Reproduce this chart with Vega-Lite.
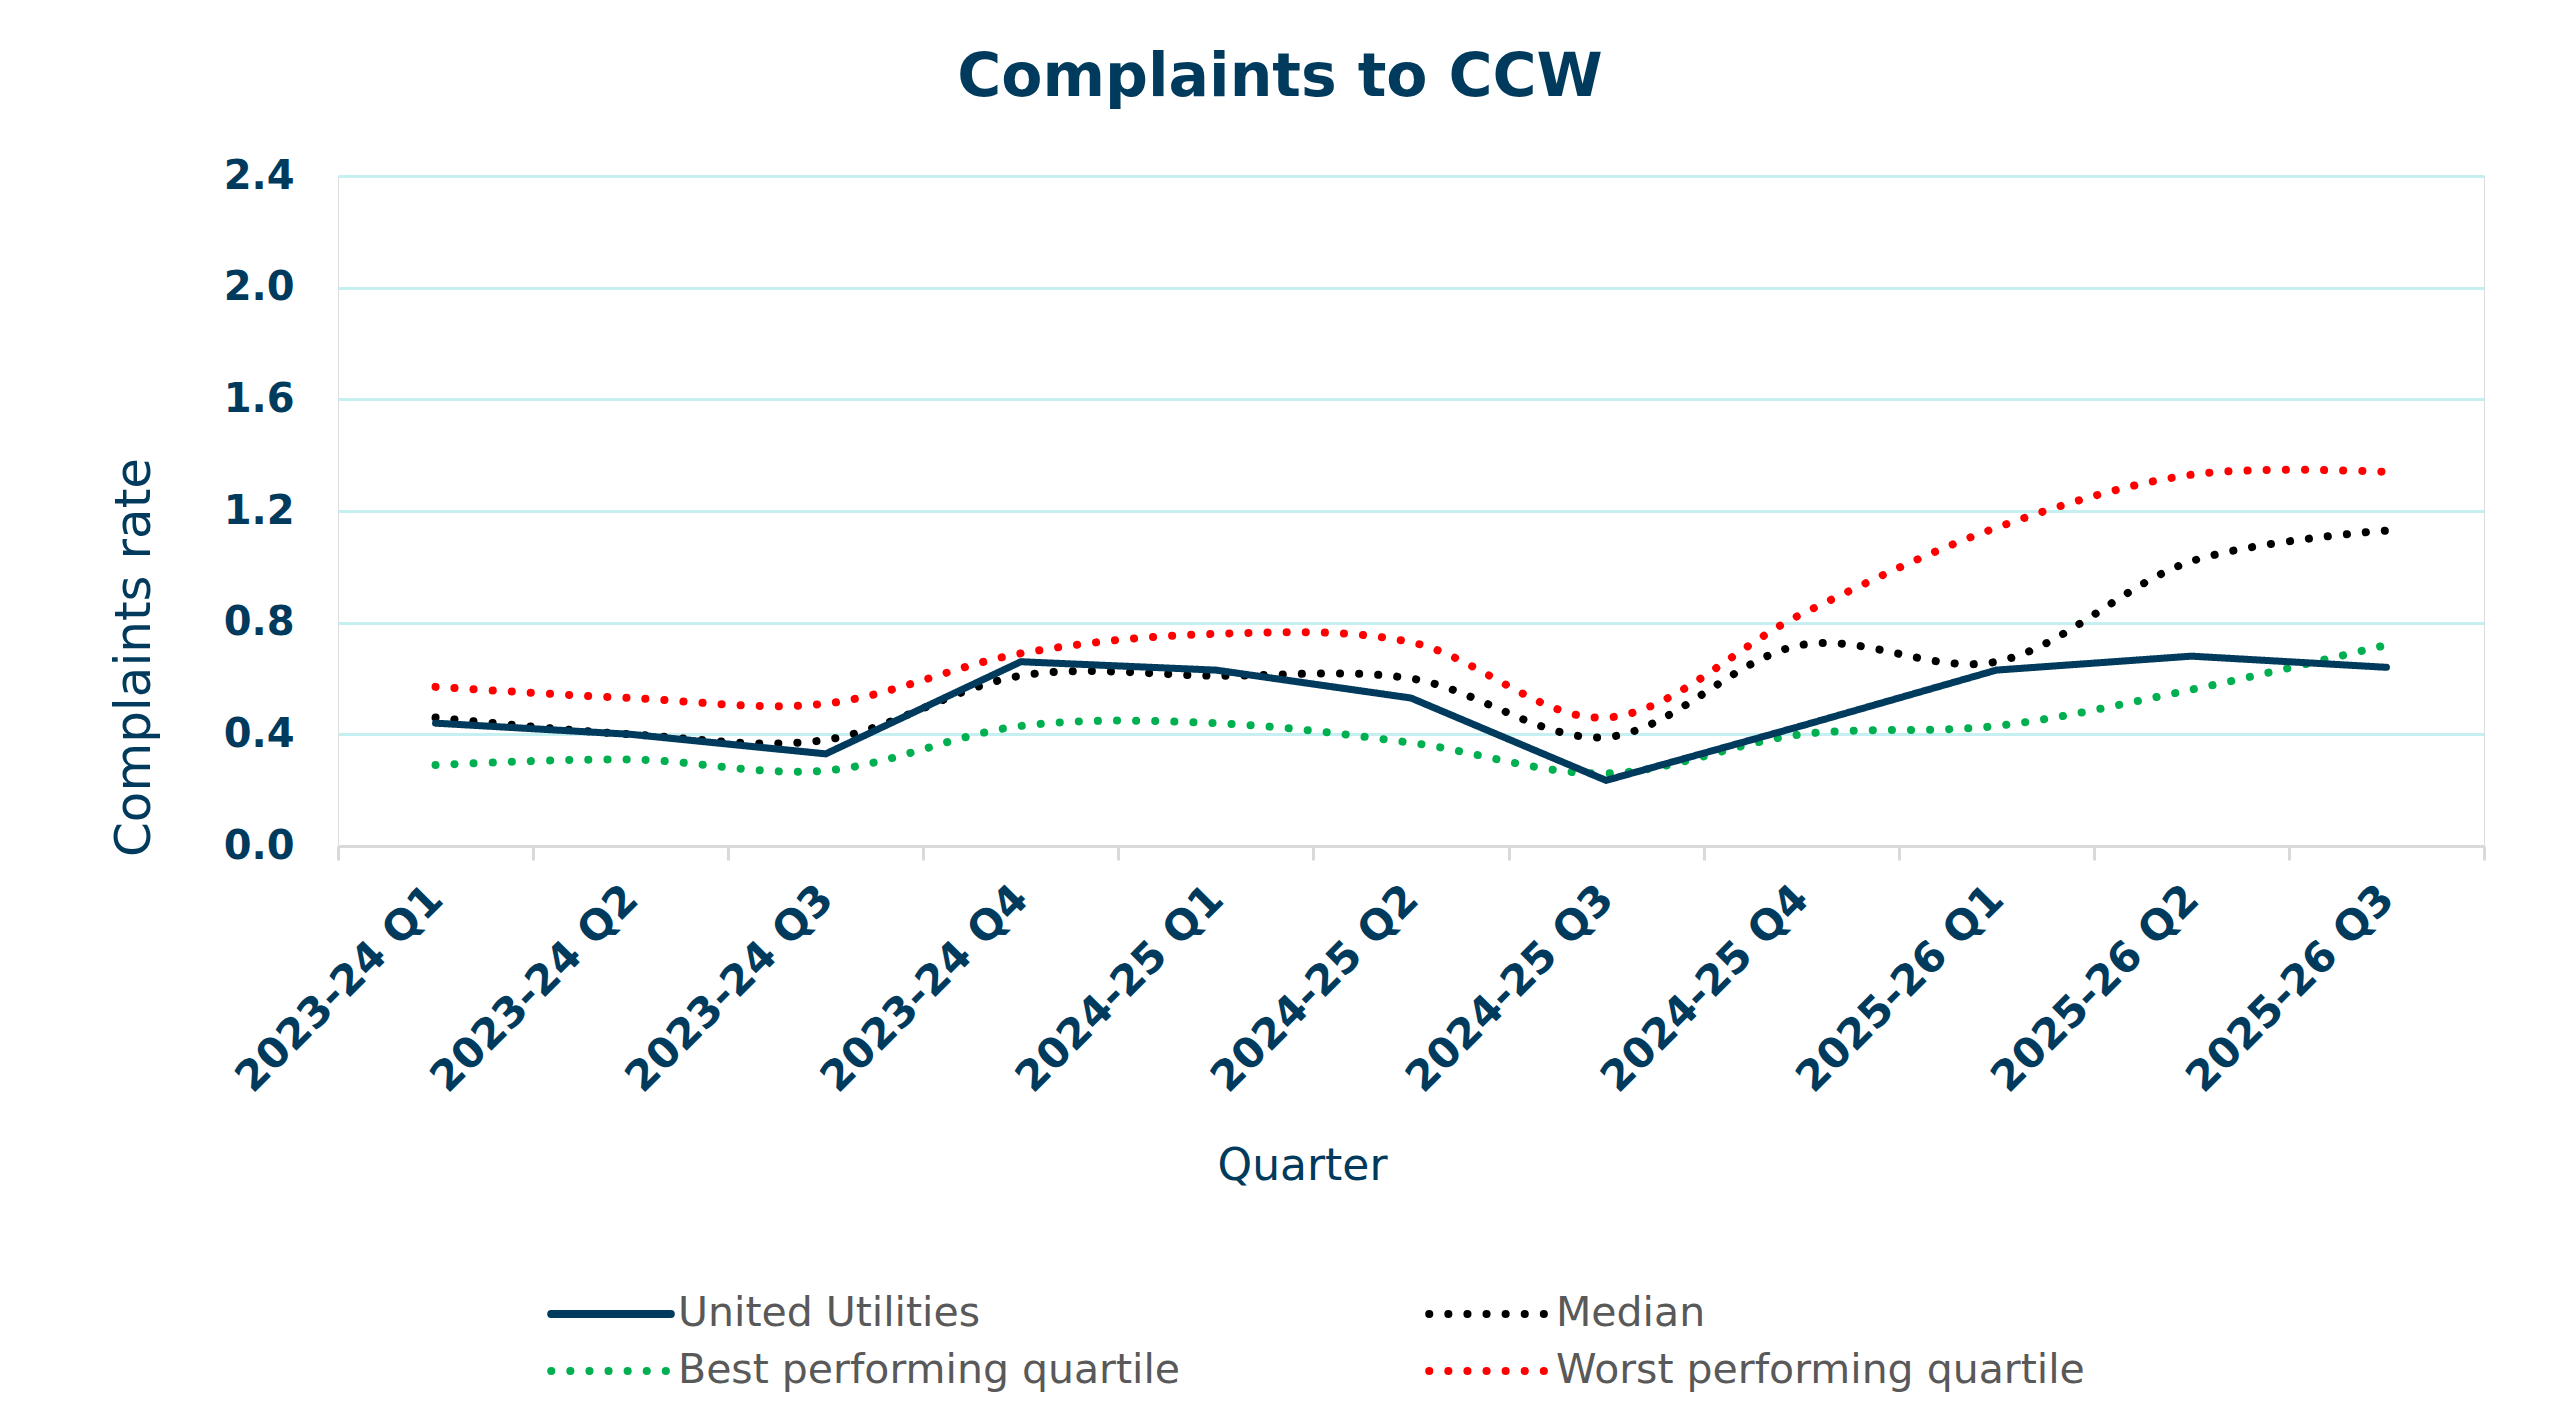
{
  "$schema": "https://vega.github.io/schema/vega-lite/v6.json",
  "width": 2146,
  "height": 670,
  "autosize": {"type": "none"},
  "padding": {"left": 338, "top": 176, "right": 76, "bottom": 582},
  "background": "#ffffff",
  "title": {
    "text": "Complaints to CCW",
    "fontSize": 60,
    "fontWeight": "bold",
    "font": "DejaVu Sans",
    "color": "#003a5c",
    "anchor": "middle",
    "frame": "group",
    "dx": -131,
    "offset": 47
  },
  "data": {
    "values": [
      {"quarter": "2023-24 Q1", "series": "United Utilities", "value": 0.44},
      {"quarter": "2023-24 Q2", "series": "United Utilities", "value": 0.40},
      {"quarter": "2023-24 Q3", "series": "United Utilities", "value": 0.33},
      {"quarter": "2023-24 Q4", "series": "United Utilities", "value": 0.66},
      {"quarter": "2024-25 Q1", "series": "United Utilities", "value": 0.63},
      {"quarter": "2024-25 Q2", "series": "United Utilities", "value": 0.53},
      {"quarter": "2024-25 Q3", "series": "United Utilities", "value": 0.235},
      {"quarter": "2024-25 Q4", "series": "United Utilities", "value": 0.43},
      {"quarter": "2025-26 Q1", "series": "United Utilities", "value": 0.63},
      {"quarter": "2025-26 Q2", "series": "United Utilities", "value": 0.68},
      {"quarter": "2025-26 Q3", "series": "United Utilities", "value": 0.64},
      {"quarter": "2023-24 Q1", "series": "Median", "value": 0.46},
      {"quarter": "2023-24 Q2", "series": "Median", "value": 0.40},
      {"quarter": "2023-24 Q3", "series": "Median", "value": 0.38},
      {"quarter": "2023-24 Q4", "series": "Median", "value": 0.61},
      {"quarter": "2024-25 Q1", "series": "Median", "value": 0.61},
      {"quarter": "2024-25 Q2", "series": "Median", "value": 0.60},
      {"quarter": "2024-25 Q3", "series": "Median", "value": 0.39},
      {"quarter": "2024-25 Q4", "series": "Median", "value": 0.72},
      {"quarter": "2025-26 Q1", "series": "Median", "value": 0.66},
      {"quarter": "2025-26 Q2", "series": "Median", "value": 1.02},
      {"quarter": "2025-26 Q3", "series": "Median", "value": 1.13},
      {"quarter": "2023-24 Q1", "series": "Best performing quartile", "value": 0.29},
      {"quarter": "2023-24 Q2", "series": "Best performing quartile", "value": 0.31},
      {"quarter": "2023-24 Q3", "series": "Best performing quartile", "value": 0.27},
      {"quarter": "2023-24 Q4", "series": "Best performing quartile", "value": 0.43},
      {"quarter": "2024-25 Q1", "series": "Best performing quartile", "value": 0.44},
      {"quarter": "2024-25 Q2", "series": "Best performing quartile", "value": 0.37},
      {"quarter": "2024-25 Q3", "series": "Best performing quartile", "value": 0.26},
      {"quarter": "2024-25 Q4", "series": "Best performing quartile", "value": 0.40},
      {"quarter": "2025-26 Q1", "series": "Best performing quartile", "value": 0.43},
      {"quarter": "2025-26 Q2", "series": "Best performing quartile", "value": 0.56},
      {"quarter": "2025-26 Q3", "series": "Best performing quartile", "value": 0.72},
      {"quarter": "2023-24 Q1", "series": "Worst performing quartile", "value": 0.57},
      {"quarter": "2023-24 Q2", "series": "Worst performing quartile", "value": 0.53},
      {"quarter": "2023-24 Q3", "series": "Worst performing quartile", "value": 0.51},
      {"quarter": "2023-24 Q4", "series": "Worst performing quartile", "value": 0.69},
      {"quarter": "2024-25 Q1", "series": "Worst performing quartile", "value": 0.76},
      {"quarter": "2024-25 Q2", "series": "Worst performing quartile", "value": 0.73},
      {"quarter": "2024-25 Q3", "series": "Worst performing quartile", "value": 0.46},
      {"quarter": "2024-25 Q4", "series": "Worst performing quartile", "value": 0.83},
      {"quarter": "2025-26 Q1", "series": "Worst performing quartile", "value": 1.14},
      {"quarter": "2025-26 Q2", "series": "Worst performing quartile", "value": 1.33},
      {"quarter": "2025-26 Q3", "series": "Worst performing quartile", "value": 1.34}
    ]
  },
  "encoding": {
    "x": {
      "field": "quarter",
      "type": "ordinal",
      "sort": null,
      "scale": {"type": "band", "paddingInner": 0, "paddingOuter": 0},
      "axis": {
        "title": "Quarter",
        "titleFont": "DejaVu Sans",
        "titleFontSize": 44,
        "titleFontWeight": "normal",
        "titleColor": "#003a5c",
        "titleX": 964,
        "titleY": 320,
        "titleBaseline": "middle",
        "titleAnchor": "middle",
        "labelAngle": -45,
        "labelAlign": "right",
        "labelBaseline": "middle",
        "labelFont": "DejaVu Sans",
        "labelFontSize": 42,
        "labelFontWeight": "bold",
        "labelColor": "#003a5c",
        "labelPadding": 32,
        "labelLimit": 1000,
        "labelOverlap": false,
        "tickBand": "extent",
        "tickColor": "#d9d9d9",
        "tickWidth": 3,
        "tickSize": 14,
        "domainColor": "#d9d9d9",
        "domainWidth": 3,
        "grid": false,
        "zindex": 1
      }
    },
    "y": {
      "field": "value",
      "type": "quantitative",
      "scale": {"domain": [0, 2.4], "nice": false, "zero": true},
      "axis": {
        "title": "Complaints rate",
        "titleFont": "DejaVu Sans",
        "titleFontSize": 50,
        "titleFontWeight": "normal",
        "titleColor": "#003a5c",
        "titleX": -204,
        "titleY": 481,
        "titleAngle": -90,
        "titleBaseline": "middle",
        "titleAlign": "center",
        "values": [0, 0.4, 0.8, 1.2, 1.6, 2.0, 2.4],
        "format": ".1f",
        "labelFont": "DejaVu Sans",
        "labelFontSize": 40,
        "labelFontWeight": "bold",
        "labelColor": "#003a5c",
        "labelPadding": 44,
        "ticks": false,
        "domain": false,
        "grid": true,
        "gridColor": "#c6eff1",
        "gridWidth": 3
      }
    },
    "color": {
      "field": "series",
      "type": "nominal",
      "scale": {
        "domain": ["United Utilities", "Median", "Best performing quartile", "Worst performing quartile"],
        "range": ["#003a5c", "#000000", "#00b050", "#ff0000"]
      },
      "legend": {
        "title": null,
        "orient": "none",
        "legendX": 246,
        "legendY": 1111,
        "columns": 2,
        "direction": "horizontal",
        "columnPadding": 232,
        "rowPadding": 10,
        "labelFont": "DejaVu Sans",
        "labelFontSize": 41,
        "labelColor": "#595959",
        "labelOffset": 40,
        "labelLimit": 1000,
        "symbolType": "M-2.6,0H2.6",
        "symbolSize": 2116,
        "symbolStrokeWidth": 8,
        "encode": {"symbols": {"update": {"strokeCap": {"value": "round"}, "fill": {"value": "transparent"}}}}
      }
    },
    "strokeDash": {
      "field": "series",
      "type": "nominal",
      "scale": {
        "domain": ["United Utilities", "Median", "Best performing quartile", "Worst performing quartile"],
        "range": [[1, 0], [0.1, 19], [0.1, 19], [0.1, 19]]
      },
      "legend": null
    }
  },
  "layer": [
    {
      "transform": [{"filter": "datum.series !== 'United Utilities'"}],
      "mark": {"type": "line", "interpolate": "catmull-rom", "strokeWidth": 8, "strokeCap": "round"}
    },
    {
      "transform": [{"filter": "datum.series === 'United Utilities'"}],
      "mark": {"type": "line", "interpolate": "linear", "strokeWidth": 7, "strokeCap": "round"}
    }
  ]
}
